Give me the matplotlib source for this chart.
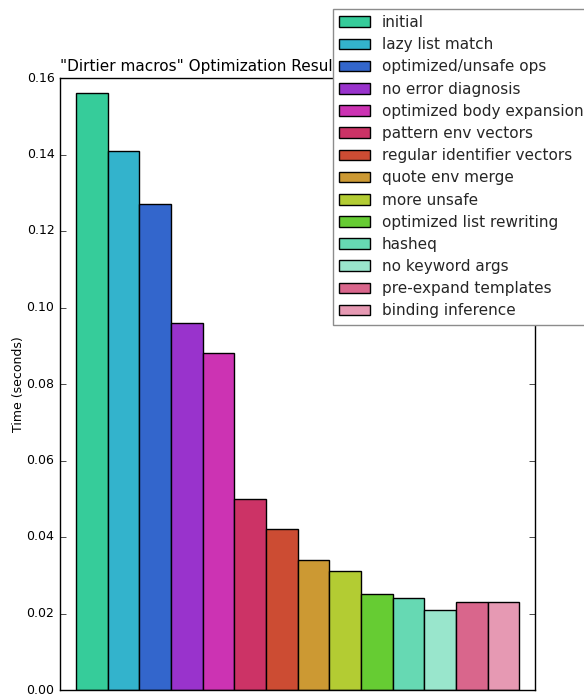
import numpy as np
import matplotlib
matplotlib.use("Agg")
import matplotlib.pyplot as plt

labels = [
    "initial", "lazy list match", "optimized/unsafe ops", "no error diagnosis",
    "optimized body expansion", "pattern env vectors", "regular identifier vectors",
    "quote env merge", "more unsafe", "optimized list rewriting", "hasheq",
    "no keyword args", "pre-expand templates", "binding inference",
]
times = [0.156, 0.141, 0.127, 0.096, 0.088, 0.050, 0.042,
         0.034, 0.031, 0.025, 0.024, 0.021, 0.023, 0.023]
colors = [
    "#36cc9a", "#33b3cc", "#3366cc", "#9933cc", "#cc33b3", "#cc3366", "#cc4c33",
    "#cc9933", "#b3cc33", "#66cc33", "#66d9b3", "#99e6cc", "#d9668c", "#e699b3",
]

plt.style.use("classic")
fig = plt.figure(figsize=(5.84, 6.98), dpi=100)
ax = fig.add_axes([60 / 584, 8 / 698, 475 / 584, 612 / 698])

pos = np.arange(1, len(times) + 1)
for x, t, c, lab in zip(pos, times, colors, labels):
    ax.bar(x, t, width=1.0, color=c, edgecolor="black", linewidth=1, label=lab,
           align="center")

ax.set_xlim(0, 15)
ax.set_ylim(0, 0.16)
ax.set_xticks([])
ax.set_yticks(np.arange(0, 0.161, 0.02))
ax.set_yticklabels(["%.2f" % v for v in np.arange(0, 0.161, 0.02)])
ax.tick_params(axis="y", labelsize=9)
ax.set_ylabel("Time (seconds)", fontsize=9, labelpad=1)
ax.set_title('"Dirtier macros" Optimization Results', loc="left", fontsize=11)

leg = fig.legend(loc="upper left", bbox_to_anchor=(333 / 584, 1 - 9 / 698),
                 borderaxespad=0, fontsize=11, frameon=True, labelspacing=0.47)
leg.get_frame().set_edgecolor("0.55")
for t in leg.get_texts():
    t.set_color("0.15")

fig.savefig("out.png", dpi=100)
